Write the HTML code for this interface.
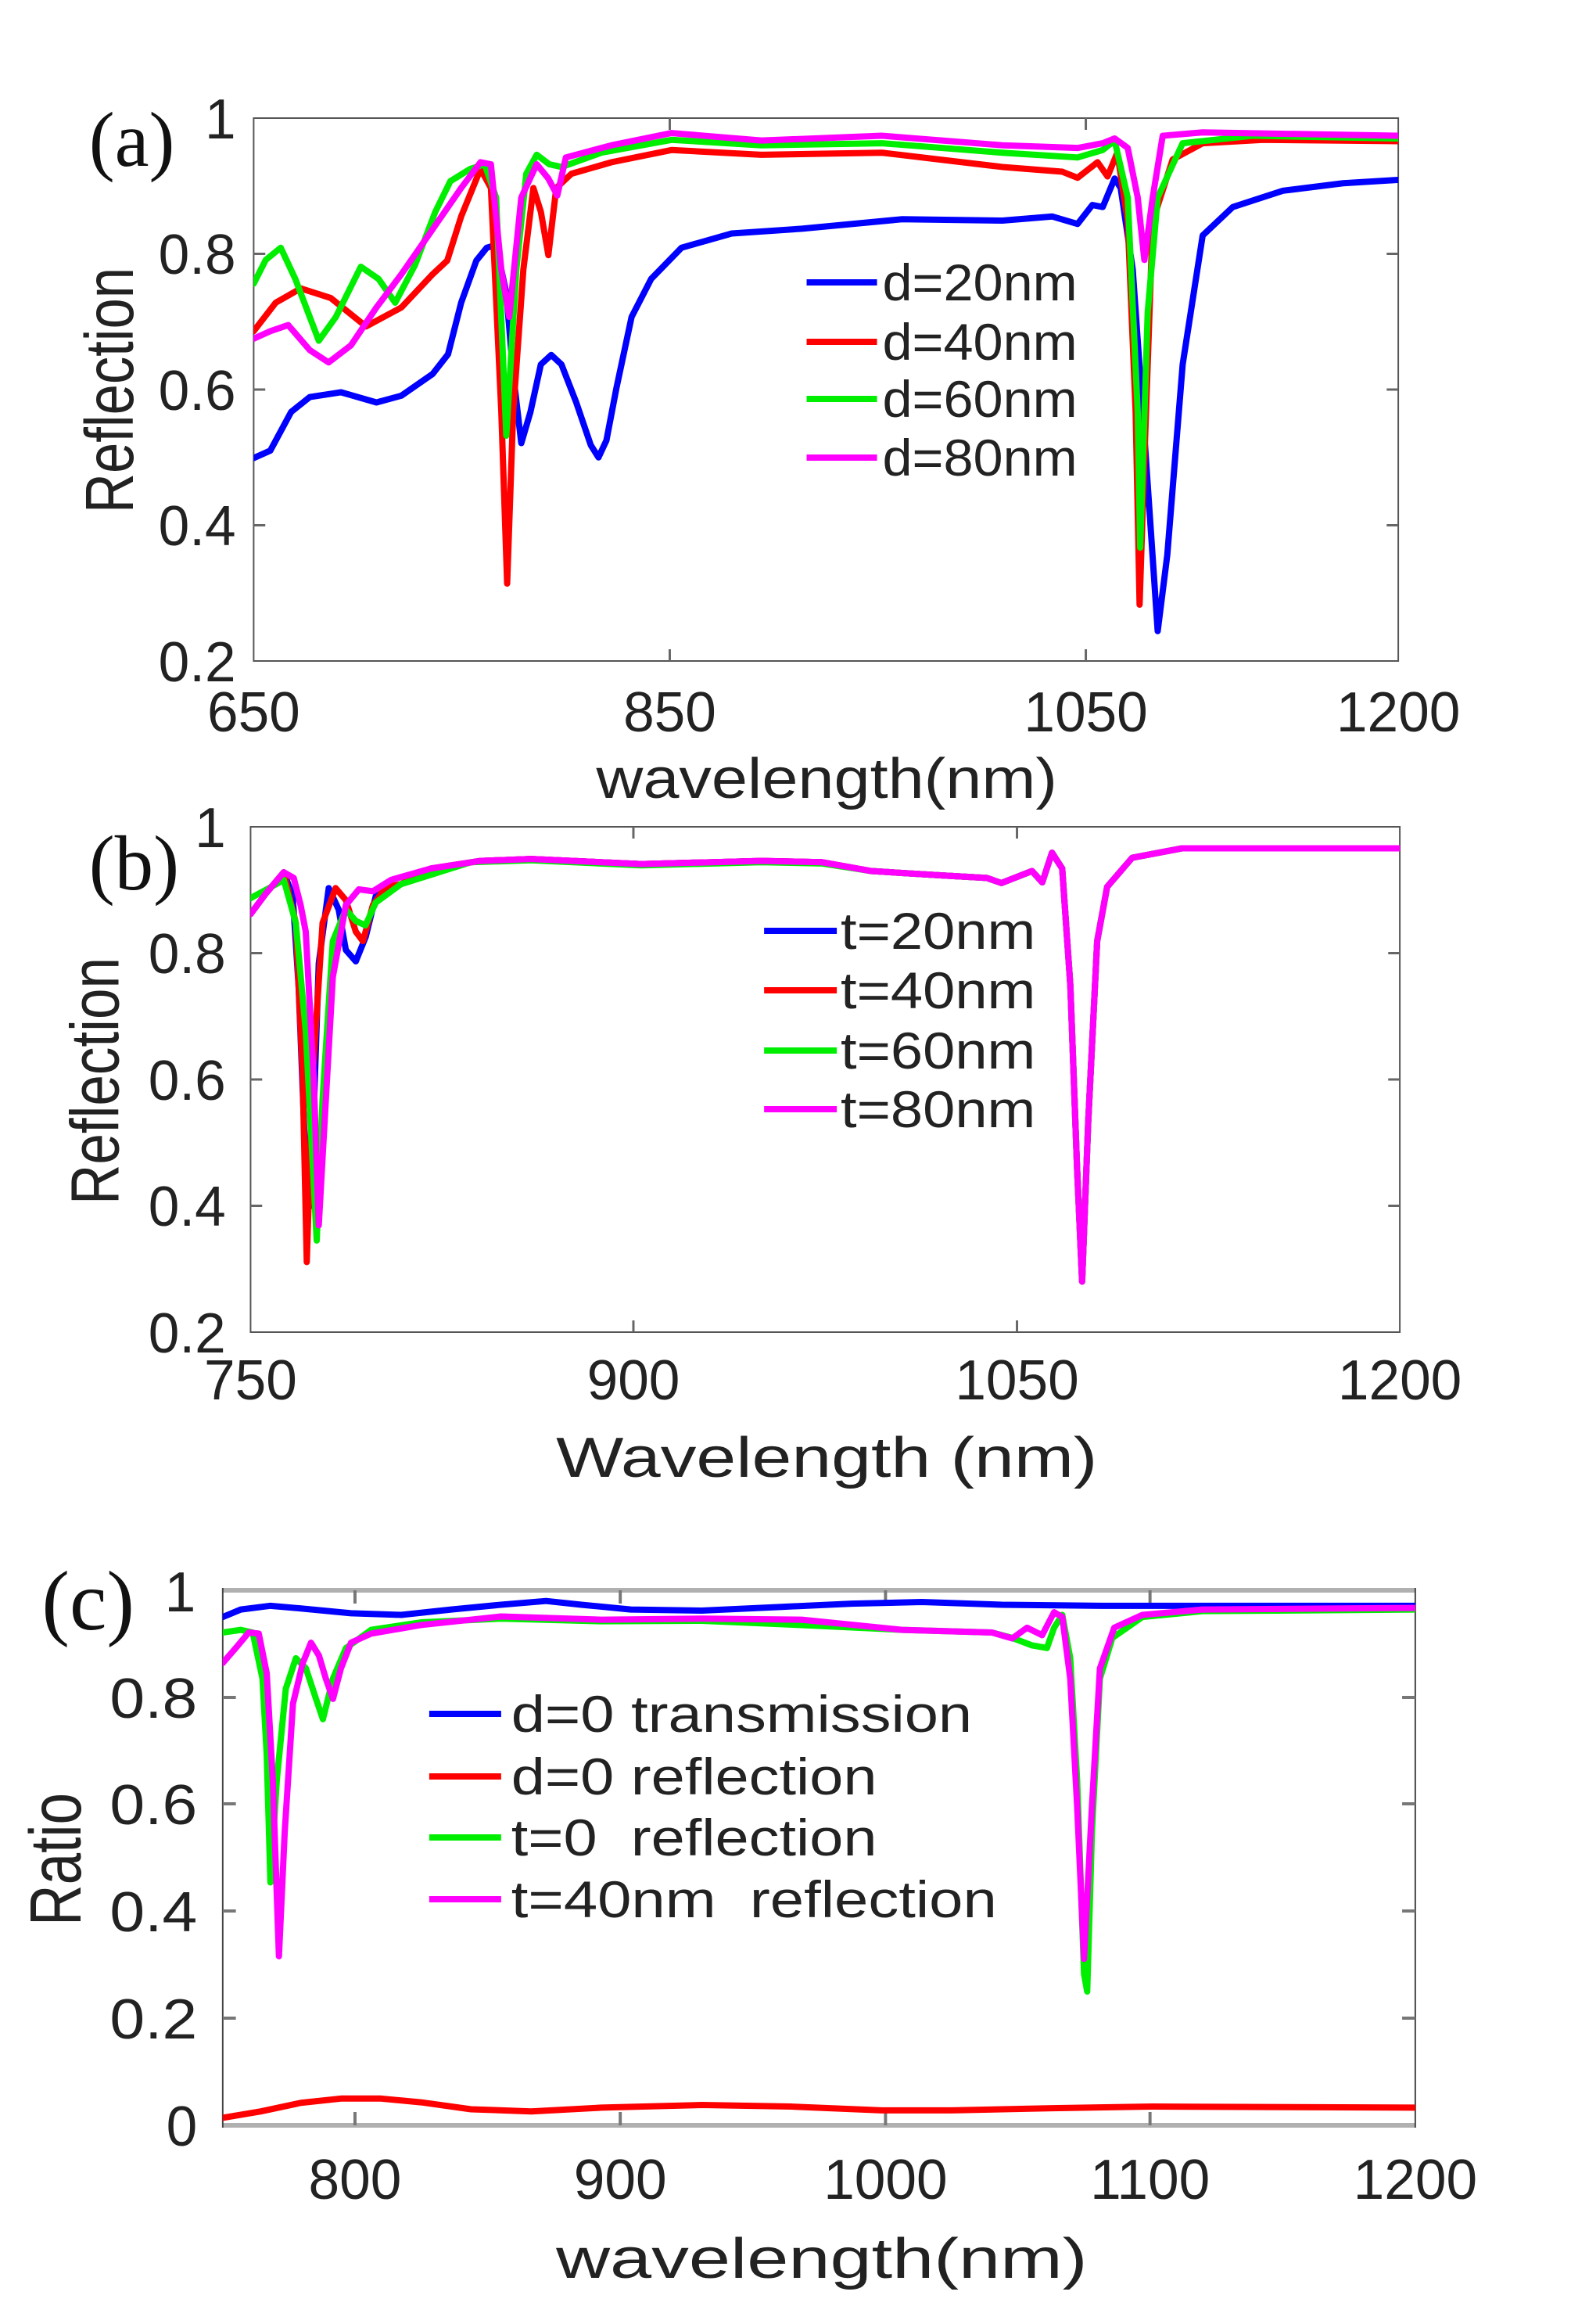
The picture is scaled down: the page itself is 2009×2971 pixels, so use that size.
<!DOCTYPE html>
<html><head><meta charset="utf-8"><style>
html,body{margin:0;padding:0;background:#fff;}
svg{display:block;}
text{font-family:"Liberation Sans",Arial,sans-serif;fill:#222;}
.t{font-size:72px;}
.lg{font-size:66px;}
.ax{font-size:72px;}
.pl{font-family:"Liberation Serif",serif;font-size:100px;fill:#111;}
path.s{fill:none;stroke-width:8;stroke-linejoin:round;stroke-linecap:round;}
</style></head><body>
<svg width="2009" height="2971" viewBox="0 0 2009 2971" xmlns="http://www.w3.org/2000/svg">
<rect width="2009" height="2971" fill="#fff"/>
<g transform="scale(0.989,1)">

<!-- ============ PANEL A ============ -->
<rect x="328" y="151" width="1480" height="694" fill="none" stroke="#555" stroke-width="2"/>
<g stroke="#666" stroke-width="3">
<line x1="866" y1="845" x2="866" y2="830"/><line x1="1404" y1="845" x2="1404" y2="830"/>
<line x1="866" y1="151" x2="866" y2="166"/><line x1="1404" y1="151" x2="1404" y2="166"/>
<line x1="328" y1="324.5" x2="343" y2="324.5"/><line x1="328" y1="498" x2="343" y2="498"/><line x1="328" y1="671.5" x2="343" y2="671.5"/>
<line x1="1808" y1="324.5" x2="1793" y2="324.5"/><line x1="1808" y1="498" x2="1793" y2="498"/><line x1="1808" y1="671.5" x2="1793" y2="671.5"/>
</g>
<svg x="328" y="151" width="1480" height="694" viewBox="650 0 550 80" preserveAspectRatio="none">
<path class="s" vector-effect="non-scaling-stroke" stroke="#0000ff" d="M650,50.1 L658,49 668,43.3 677,41.1 692,40.4 709,41.9 721,40.9 736,37.7 743.4,34.8 749.7,27.2 757,21 762,19.1 766.5,18.7 771.4,25.8 774.7,37.7 778.6,47.9 783,43.3 788,36.3 793,34.9 797.9,36.3 805,41.9 812,48.2 815.7,50 819.5,47.5 824.3,39.8 831.6,29.3 841,23.7 855.6,19.1 879.7,17 913.4,16.3 961.6,14.9 1009.8,15.1 1033.8,14.5 1045.9,15.6 1053,12.8 1058,13.1 1063.7,8.9 1066.6,10.3 1072.4,22.3 1078,46.8 1084.4,75.6 1089,64.4 1096.4,36.3 1106,17.3 1120.5,13.1 1144.6,10.7 1173.5,9.6 1200,9.1"/>
<path class="s" vector-effect="non-scaling-stroke" stroke="#ff0000" d="M650,31.4 L660.6,27.2 672.6,25.1 687,26.5 704,30.7 721,27.9 736,23 743,21 749.7,14.5 759,7.5 764,10.3 769,43.3 771.8,68.6 774.7,43.3 779.6,22.3 784.4,10.3 788,13.8 791.6,20.2 795.4,10.3 802.7,8.2 822,6.5 850.8,4.7 894,5.4 952,5.1 1009.8,7.2 1038.6,7.9 1045.9,8.8 1055.5,6.5 1060.3,8.6 1065,5.1 1070,15.2 1073.8,43.3 1075.7,71.7 1078,50.3 1082,15.2 1091.6,6.1 1106,3.7 1135,3.2 1200,3.4"/>
<path class="s" vector-effect="non-scaling-stroke" stroke="#00ee00" d="M650,24.4 L655.8,20.9 663,19.1 670,23.7 681.3,32.8 689.5,29.3 701.5,21.9 710,23.7 718,27.2 727.6,21.6 737.3,13.8 744.5,9.3 754,7.5 761,6.8 766.5,11.7 771.4,46.8 776.2,22.3 781,8.2 786,5.4 792,6.8 798,7.2 817,5.1 850.8,3.2 894,4 952,3.7 1009.8,5.1 1045.9,5.8 1058,4.7 1063.7,3.3 1070,11.7 1074.8,43.3 1076,63.3 1079.6,28.6 1084.4,11.7 1096.4,3.7 1130,2.6 1200,3"/>
<path class="s" vector-effect="non-scaling-stroke" stroke="#ff00ff" d="M650,32.5 L658,31.4 666.6,30.5 677,34.2 686,36 696.7,33.5 709,27.9 721,23 735.5,16.6 749.7,10.3 759,6.5 764,6.8 769,22.3 772.8,29.3 778.6,11.7 786,6.8 791.6,8.9 795.9,11.4 800,5.8 822,4 850.8,2.2 894,3.3 952,2.6 1009.8,4 1045.9,4.4 1058,3.7 1063.7,3 1070,4.4 1074.8,11.7 1078,20.9 1082,11.7 1086.8,2.6 1106,2.1 1200,2.6"/>
</svg>
<g class="t" text-anchor="end">
<text x="305" y="177">1</text><text x="305" y="350">0.8</text><text x="305" y="524">0.6</text><text x="305" y="697">0.4</text><text x="305" y="871">0.2</text>
</g>
<g class="t" text-anchor="middle">
<text x="328" y="935">650</text><text x="866" y="935">850</text><text x="1404" y="935">1050</text><text x="1808" y="935">1200</text>
</g>
<text class="ax" x="771" y="1020" textLength="596" lengthAdjust="spacingAndGlyphs">wavelength(nm)</text>
<text class="ax" transform="translate(172,499) rotate(-90)" x="-157" y="0" textLength="314" lengthAdjust="spacingAndGlyphs" style="font-size:88px">Reflection</text>
<text class="pl" x="115" y="212">(a)</text>
<g stroke-width="8">
<line x1="1043" y1="361" x2="1134" y2="361" stroke="#0000ff"/>
<line x1="1043" y1="437" x2="1134" y2="437" stroke="#ff0000"/>
<line x1="1043" y1="510" x2="1134" y2="510" stroke="#00ee00"/>
<line x1="1043" y1="585" x2="1134" y2="585" stroke="#ff00ff"/>
</g>
<g class="lg">
<text x="1141" y="384" textLength="252" lengthAdjust="spacingAndGlyphs">d=20nm</text>
<text x="1141" y="460" textLength="252" lengthAdjust="spacingAndGlyphs">d=40nm</text>
<text x="1141" y="533" textLength="252" lengthAdjust="spacingAndGlyphs">d=60nm</text>
<text x="1141" y="608" textLength="252" lengthAdjust="spacingAndGlyphs">d=80nm</text>
</g>

<!-- ============ PANEL B ============ -->
<rect x="324" y="1057" width="1486" height="646" fill="none" stroke="#555" stroke-width="2"/>
<g stroke="#666" stroke-width="3">
<line x1="819" y1="1703" x2="819" y2="1688"/><line x1="1315" y1="1703" x2="1315" y2="1688"/>
<line x1="819" y1="1057" x2="819" y2="1072"/><line x1="1315" y1="1057" x2="1315" y2="1072"/>
<line x1="324" y1="1218.5" x2="339" y2="1218.5"/><line x1="324" y1="1380" x2="339" y2="1380"/><line x1="324" y1="1541.5" x2="339" y2="1541.5"/>
<line x1="1810" y1="1218.5" x2="1795" y2="1218.5"/><line x1="1810" y1="1380" x2="1795" y2="1380"/><line x1="1810" y1="1541.5" x2="1795" y2="1541.5"/>
</g>
<svg x="324" y="1057" width="1486" height="646" viewBox="750 0 450 80" preserveAspectRatio="none">
<path class="s" vector-effect="non-scaling-stroke" stroke="#0000ff" d="M750,13.8 L755.9,10.6 763,7.2 766.5,10.9 768.8,25.2 771.6,53.8 773.5,60 776.7,21.6 780.6,9.7 784.5,13.1 787.3,19.5 791.2,21.3 795.1,17.4 799,11 808.8,9.1 820.6,6.6 840,5.4 859.8,5.1 903,5.9 950,5.4 973.6,5.6 993,7 1020.7,7.7 1038.3,8.1 1044,8.9 1056,7 1060,8.8 1063.8,4.1 1067.8,6.6 1071,25.2 1073.6,53.8 1075.6,72 1078,46.6 1081.5,18.1 1085.4,9.5 1095.2,4.9 1114.8,3.4 1200,3.4"/>
<path class="s" vector-effect="non-scaling-stroke" stroke="#ff0000" d="M750,13.8 L755.9,10.6 763,7.2 767.7,15.2 770.4,39.5 772,68.9 774.3,39.5 778.2,15.2 783.3,9.7 787.3,11.6 791.2,16.6 794,18.1 797.9,12.4 803,9.5 808.8,9.1 820.6,6.6 840,5.4 859.8,5.1 903,5.9 950,5.4 973.6,5.6 993,7 1020.7,7.7 1038.3,8.1 1044,8.9 1056,7 1060,8.8 1063.8,4.1 1067.8,6.6 1071,25.2 1073.6,53.8 1075.6,72 1078,46.6 1081.5,18.1 1085.4,9.5 1095.2,4.9 1114.8,3.4 1200,3.4"/>
<path class="s" vector-effect="non-scaling-stroke" stroke="#00ee00" d="M750,11.3 L755.9,10 763,8.4 767.7,15.2 771.6,32.3 775.9,65.5 778.2,43.1 782.2,18.1 787.3,13.1 791.2,14.9 795,15.6 799,12 808.8,9.1 836.3,5.6 859.8,5.3 903,6.1 950,5.6 973.6,5.8 993,7 1020.7,7.7 1038.3,8.1 1044,8.9 1056,7 1060,8.8 1063.8,4.1 1067.8,6.6 1071,25.2 1073.6,53.8 1075.6,72 1078,46.6 1081.5,18.1 1085.4,9.5 1095.2,4.9 1114.8,3.4 1200,3.4"/>
<path class="s" vector-effect="non-scaling-stroke" stroke="#ff00ff" d="M750,13.8 L755.9,10.6 763,7.2 766.9,8.1 769.6,12.4 771.6,16.6 774.7,39.5 776.7,63.1 779,46.6 782.2,23.8 787.3,12.4 792.4,9.9 797.9,10.2 805,8.4 820.6,6.6 840,5.4 859.8,5.1 903,5.9 950,5.4 973.6,5.6 993,7 1020.7,7.7 1038.3,8.1 1044,8.9 1056,7 1060,8.8 1063.8,4.1 1067.8,6.6 1071,25.2 1073.6,53.8 1075.6,72 1078,46.6 1081.5,18.1 1085.4,9.5 1095.2,4.9 1114.8,3.4 1200,3.4"/>
</svg>
<g class="t" text-anchor="end">
<text x="292" y="1083">1</text><text x="292" y="1244">0.8</text><text x="292" y="1406">0.6</text><text x="292" y="1567">0.4</text><text x="292" y="1729">0.2</text>
</g>
<g class="t" text-anchor="middle">
<text x="324" y="1789">750</text><text x="819" y="1789">900</text><text x="1315" y="1789">1050</text><text x="1810" y="1789">1200</text>
</g>
<text class="ax" x="719" y="1888" textLength="700" lengthAdjust="spacingAndGlyphs">Wavelength (nm)</text>
<text class="ax" transform="translate(153,1382) rotate(-90)" x="-158" y="0" textLength="316" lengthAdjust="spacingAndGlyphs" style="font-size:88px">Reflection</text>
<text class="pl" x="115" y="1137">(b)</text>
<g stroke-width="8">
<line x1="988" y1="1190" x2="1082" y2="1190" stroke="#0000ff"/>
<line x1="988" y1="1266" x2="1082" y2="1266" stroke="#ff0000"/>
<line x1="988" y1="1343" x2="1082" y2="1343" stroke="#00ee00"/>
<line x1="988" y1="1418" x2="1082" y2="1418" stroke="#ff00ff"/>
</g>
<g class="lg">
<text x="1087" y="1213" textLength="252" lengthAdjust="spacingAndGlyphs">t=20nm</text>
<text x="1087" y="1289" textLength="252" lengthAdjust="spacingAndGlyphs">t=40nm</text>
<text x="1087" y="1366" textLength="252" lengthAdjust="spacingAndGlyphs">t=60nm</text>
<text x="1087" y="1441" textLength="252" lengthAdjust="spacingAndGlyphs">t=80nm</text>
</g>

<!-- ============ PANEL C ============ -->
<line x1="288" y1="2033" x2="1830" y2="2033" stroke="#b0b0b0" stroke-width="6"/>
<line x1="288" y1="2717" x2="1830" y2="2717" stroke="#b0b0b0" stroke-width="6"/>
<line x1="288" y1="2030" x2="288" y2="2720" stroke="#444" stroke-width="2"/>
<line x1="1830" y1="2030" x2="1830" y2="2720" stroke="#444" stroke-width="2"/>
<g stroke="#777" stroke-width="4">
<line x1="459" y1="2717" x2="459" y2="2700"/><line x1="802" y1="2717" x2="802" y2="2700"/><line x1="1145" y1="2717" x2="1145" y2="2700"/><line x1="1487" y1="2717" x2="1487" y2="2700"/>
<line x1="459" y1="2033" x2="459" y2="2050"/><line x1="802" y1="2033" x2="802" y2="2050"/><line x1="1145" y1="2033" x2="1145" y2="2050"/><line x1="1487" y1="2033" x2="1487" y2="2050"/>
<line x1="288" y1="2170" x2="305" y2="2170"/><line x1="288" y1="2306" x2="305" y2="2306"/><line x1="288" y1="2443" x2="305" y2="2443"/><line x1="288" y1="2580" x2="305" y2="2580"/>
<line x1="1830" y1="2170" x2="1813" y2="2170"/><line x1="1830" y1="2306" x2="1813" y2="2306"/><line x1="1830" y1="2443" x2="1813" y2="2443"/><line x1="1830" y1="2580" x2="1813" y2="2580"/>
</g>
<svg x="288" y="2033" width="1542" height="684" viewBox="750 0 450 100" preserveAspectRatio="none">
<path class="s" vector-effect="non-scaling-stroke" stroke="#0000ff" d="M750,5 L756.8,3.6 768,2.9 779.5,3.4 798.4,4.3 817.3,4.6 836.2,3.6 855,2.7 872,2 885.3,2.7 904,3.6 930.7,3.8 961,3.1 987.4,2.5 1013.8,2.2 1044,2.7 1082,2.9 1200,2.9"/>
<path class="s" vector-effect="non-scaling-stroke" stroke="#ff0000" d="M750,98.6 L764.4,97.4 779.5,95.8 794.6,95 809.7,95 824.8,95.7 843.7,97 866.4,97.4 892.9,96.7 930.7,96.2 964.7,96.5 998.7,97.2 1025,97.2 1063,96.8 1100.8,96.5 1200,96.7"/>
<path class="s" vector-effect="non-scaling-stroke" stroke="#00ee00" d="M750,7.9 L756.8,7.4 761.3,7.9 765,16.5 766.6,30.8 768,54.6 770.4,35.5 773.8,18.4 777.6,12.7 781.4,14.6 785.2,20.3 787.8,24.1 791.6,16.5 796.5,10.8 806,7.4 824.8,6 855,5.3 892.9,5.8 930.7,5.7 968.5,6.5 1006.3,7.4 1040.3,7.9 1047.9,8.9 1055.4,10.3 1061,10.8 1063.7,7 1066.8,4.6 1069.8,12.7 1072.4,35.5 1075,71.7 1076.2,75 1078,45 1081,16.5 1085.7,8.9 1097,5 1119.7,3.9 1200,3.6"/>
<path class="s" vector-effect="non-scaling-stroke" stroke="#ff00ff" d="M750,13.6 L754.9,10.8 759.8,7.9 763.6,8.1 766.6,15.5 768.9,35.5 771.2,68.4 773.4,45.1 776.5,21.2 780.2,13.6 783.3,9.8 786.3,12.2 788.9,16.5 791.6,20.3 794.6,14.6 798.4,9.8 806,8.1 824.8,6.5 855,4.9 892.9,5.5 930.7,5.3 968.5,5.5 1006.3,7.4 1040.3,7.9 1047.9,9 1053.5,7 1059.2,8.4 1063.7,4.1 1066.8,5 1069.8,16.5 1072.4,40.3 1075,68.9 1078,40.3 1081,14.6 1086.4,7 1097,4.6 1119.7,3.6 1200,3.3"/>
</svg>
<g class="t" text-anchor="end">
<text x="253" y="2060">1</text><text x="255" y="2196" textLength="113" lengthAdjust="spacingAndGlyphs">0.8</text><text x="255" y="2332" textLength="113" lengthAdjust="spacingAndGlyphs">0.6</text><text x="255" y="2469" textLength="113" lengthAdjust="spacingAndGlyphs">0.4</text><text x="255" y="2606" textLength="113" lengthAdjust="spacingAndGlyphs">0.2</text><text x="255" y="2743">0</text>
</g>
<g class="t" text-anchor="middle">
<text x="459" y="2811">800</text><text x="802" y="2811">900</text><text x="1145" y="2811">1000</text><text x="1487" y="2811">1100</text><text x="1830" y="2811">1200</text>
</g>
<text class="ax" x="719" y="2912" textLength="687" lengthAdjust="spacingAndGlyphs">wavelength(nm)</text>
<text class="ax" transform="translate(104,2377) rotate(-90)" x="-85" y="0" textLength="170" lengthAdjust="spacingAndGlyphs" style="font-size:94px">Ratio</text>
<text class="pl" x="54" y="2083" style="font-size:108px">(c)</text>
<g stroke-width="8">
<line x1="555" y1="2191" x2="648" y2="2191" stroke="#0000ff"/>
<line x1="555" y1="2271" x2="648" y2="2271" stroke="#ff0000"/>
<line x1="555" y1="2349" x2="648" y2="2349" stroke="#00ee00"/>
<line x1="555" y1="2428" x2="648" y2="2428" stroke="#ff00ff"/>
</g>
<g class="lg">
<text x="661" y="2214" textLength="596" lengthAdjust="spacingAndGlyphs">d=0 transmission</text>
<text x="661" y="2294" textLength="473" lengthAdjust="spacingAndGlyphs">d=0 reflection</text>
<text x="661" y="2372" textLength="473" lengthAdjust="spacingAndGlyphs" xml:space="preserve">t=0  reflection</text>
<text x="661" y="2451" textLength="628" lengthAdjust="spacingAndGlyphs" xml:space="preserve">t=40nm  reflection</text>
</g>
</g>
</svg>
</body></html>
